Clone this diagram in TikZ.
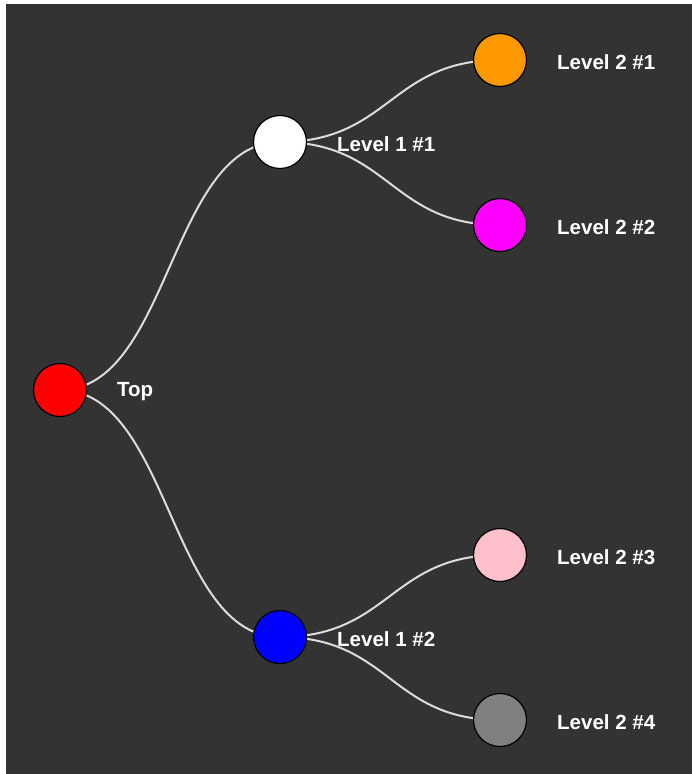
\documentclass[tikz,border=0pt]{standalone}
\usepackage{fontspec}
\setmainfont{Liberation Sans}
\definecolor{cred}{RGB}{255,0,0}
\definecolor{cblue}{RGB}{0,0,255}
\definecolor{cmag}{RGB}{255,0,255}
\definecolor{corange}{RGB}{255,153,0}
\definecolor{cpink}{RGB}{255,192,203}
\definecolor{cgray}{RGB}{128,128,128}
\definecolor{cbg}{RGB}{51,51,51}
\definecolor{clink}{RGB}{220,220,220}
\begin{document}
\begin{tikzpicture}[x=1pt,y=-1pt,
  dot/.style={circle,draw=black,line width=1.2pt,minimum size=53pt,inner sep=0pt},
  lbl/.style={anchor=west,text=white,font=\bfseries\fontsize{20.5}{24}\selectfont,inner sep=0pt},
  link/.style={draw=clink,line width=2pt}]
\useasboundingbox (0,0) rectangle (692,774);
\fill[white] (0,0) rectangle (692,774);
\fill[cbg] (6,4) rectangle (692,774);
\coordinate (r) at (60,390);
\coordinate (a) at (280,142);
\coordinate (b) at (280,637);
\coordinate (a1) at (500,60);
\coordinate (a2) at (500,225);
\coordinate (b1) at (500,555);
\coordinate (b2) at (500,720);
\draw[link] (r) .. controls (170,390) and (170,142) .. (a);
\draw[link] (r) .. controls (170,390) and (170,637) .. (b);
\draw[link] (a) .. controls (390,142) and (390,60) .. (a1);
\draw[link] (a) .. controls (390,142) and (390,225) .. (a2);
\draw[link] (b) .. controls (390,637) and (390,555) .. (b1);
\draw[link] (b) .. controls (390,637) and (390,720) .. (b2);
\node[dot,fill=cred] (nr) at (r) {};
\node[dot,fill=white] (na) at (a) {};
\node[dot,fill=cblue] (nb) at (b) {};
\node[dot,fill=corange] (na1) at (a1) {};
\node[dot,fill=cmag] (na2) at (a2) {};
\node[dot,fill=cpink] (nb1) at (b1) {};
\node[dot,fill=cgray] (nb2) at (b2) {};
\node[lbl] (tr) at (117,392) {Top};
\node[lbl] (ta) at (337,144) {Level 1 \#1};
\node[lbl] (tb) at (337,639) {Level 1 \#2};
\node[lbl] (ta1) at (557,62) {Level 2 \#1};
\node[lbl] (ta2) at (557,227) {Level 2 \#2};
\node[lbl] (tb1) at (557,557) {Level 2 \#3};
\node[lbl] (tb2) at (557,722) {Level 2 \#4};
\end{tikzpicture}
\end{document}
